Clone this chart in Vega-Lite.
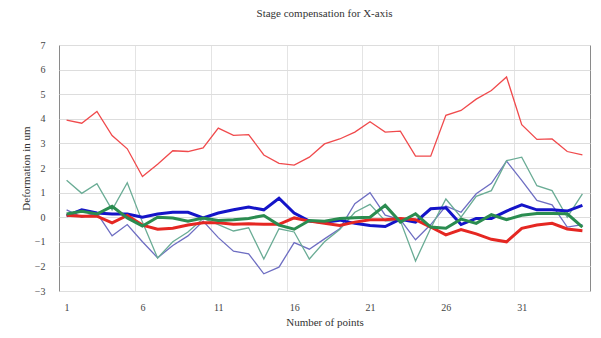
{
  "$schema": "https://vega.github.io/schema/vega-lite/v6.json",
  "width": 531,
  "height": 246,
  "autosize": {"type": "none"},
  "padding": {"left": 59, "top": 45, "right": 11, "bottom": 47},
  "background": "white",
  "title": {
    "text": "Stage compensation for X-axis",
    "font": "Liberation Serif",
    "fontSize": 11,
    "fontWeight": "normal",
    "color": "#333333",
    "anchor": "middle",
    "offset": 21
  },
  "config": {
    "view": {"stroke": "#8a8a8a", "strokeWidth": 1},
    "axis": {
      "labelFont": "Liberation Serif",
      "titleFont": "Liberation Serif",
      "labelColor": "#444444",
      "titleColor": "#333333",
      "labelFontSize": 10,
      "titleFontSize": 11,
      "titleFontWeight": "normal",
      "gridColor": "#dddddd",
      "gridWidth": 1,
      "labelOverlap": false
    }
  },
  "data": {
    "values": [
      {"point": 1, "s1": 3.95, "s2": 0.05, "s3": 0.08, "s4": 0.13, "s5": 0.3, "s6": 1.5},
      {"point": 2, "s1": 3.82, "s2": 0.3, "s3": 0.04, "s4": 0.24, "s5": 0.0, "s6": 0.97},
      {"point": 3, "s1": 4.3, "s2": 0.17, "s3": 0.04, "s4": 0.13, "s5": 0.17, "s6": 1.36},
      {"point": 4, "s1": 3.32, "s2": 0.13, "s3": -0.23, "s4": 0.44, "s5": -0.76, "s6": 0.3},
      {"point": 5, "s1": 2.78, "s2": 0.13, "s3": 0.07, "s4": -0.03, "s5": -0.3, "s6": 1.4},
      {"point": 6, "s1": 1.65, "s2": 0.0, "s3": -0.32, "s4": -0.36, "s5": -1.0, "s6": -0.2},
      {"point": 7, "s1": 2.15, "s2": 0.13, "s3": -0.49, "s4": 0.0, "s5": -1.65, "s6": -1.66},
      {"point": 8, "s1": 2.7, "s2": 0.2, "s3": -0.45, "s4": -0.03, "s5": -1.15, "s6": -1.0},
      {"point": 9, "s1": 2.67, "s2": 0.2, "s3": -0.32, "s4": -0.16, "s5": -0.76, "s6": -0.6},
      {"point": 10, "s1": 2.82, "s2": -0.03, "s3": -0.23, "s4": -0.03, "s5": -0.16, "s6": -0.05},
      {"point": 11, "s1": 3.62, "s2": 0.17, "s3": -0.23, "s4": -0.13, "s5": -0.83, "s6": -0.3},
      {"point": 12, "s1": 3.33, "s2": 0.3, "s3": -0.29, "s4": -0.1, "s5": -1.38, "s6": -0.56},
      {"point": 13, "s1": 3.36, "s2": 0.41, "s3": -0.27, "s4": -0.05, "s5": -1.49, "s6": -0.43},
      {"point": 14, "s1": 2.53, "s2": 0.3, "s3": -0.29, "s4": 0.07, "s5": -2.3, "s6": -1.7},
      {"point": 15, "s1": 2.19, "s2": 0.77, "s3": -0.29, "s4": -0.32, "s5": -2.03, "s6": -0.47},
      {"point": 16, "s1": 2.12, "s2": 0.17, "s3": -0.03, "s4": -0.49, "s5": -1.03, "s6": -0.6},
      {"point": 17, "s1": 2.44, "s2": -0.16, "s3": -0.16, "s4": -0.13, "s5": -1.3, "s6": -1.7},
      {"point": 18, "s1": 2.98, "s2": -0.2, "s3": -0.25, "s4": -0.16, "s5": -0.88, "s6": -1.0},
      {"point": 19, "s1": 3.18, "s2": -0.12, "s3": -0.34, "s4": -0.05, "s5": -0.47, "s6": -0.5},
      {"point": 20, "s1": 3.46, "s2": -0.25, "s3": -0.2, "s4": -0.02, "s5": 0.55, "s6": 0.2},
      {"point": 21, "s1": 3.88, "s2": -0.34, "s3": -0.1, "s4": 0.0, "s5": 1.0, "s6": 0.52},
      {"point": 22, "s1": 3.46, "s2": -0.38, "s3": -0.1, "s4": 0.48, "s5": 0.08, "s6": -0.15},
      {"point": 23, "s1": 3.5, "s2": -0.08, "s3": -0.05, "s4": -0.2, "s5": -0.1, "s6": -0.15},
      {"point": 24, "s1": 2.48, "s2": -0.2, "s3": -0.1, "s4": 0.14, "s5": -0.92, "s6": -1.78},
      {"point": 25, "s1": 2.48, "s2": 0.34, "s3": -0.4, "s4": -0.4, "s5": -0.3, "s6": -0.45},
      {"point": 26, "s1": 4.14, "s2": 0.38, "s3": -0.72, "s4": -0.45, "s5": 0.45, "s6": 0.74},
      {"point": 27, "s1": 4.34, "s2": -0.3, "s3": -0.5, "s4": -0.08, "s5": 0.2, "s6": 0.0},
      {"point": 28, "s1": 4.8, "s2": -0.05, "s3": -0.68, "s4": -0.25, "s5": 0.95, "s6": 0.85},
      {"point": 29, "s1": 5.15, "s2": -0.05, "s3": -0.9, "s4": 0.1, "s5": 1.38, "s6": 1.08},
      {"point": 30, "s1": 5.7, "s2": 0.25, "s3": -1.0, "s4": -0.1, "s5": 2.28, "s6": 2.3},
      {"point": 31, "s1": 3.76, "s2": 0.5, "s3": -0.45, "s4": 0.08, "s5": 1.5, "s6": 2.44},
      {"point": 32, "s1": 3.16, "s2": 0.3, "s3": -0.32, "s4": 0.15, "s5": 0.68, "s6": 1.28},
      {"point": 33, "s1": 3.18, "s2": 0.3, "s3": -0.25, "s4": 0.15, "s5": 0.5, "s6": 1.08},
      {"point": 34, "s1": 2.67, "s2": 0.25, "s3": -0.48, "s4": 0.14, "s5": -0.4, "s6": 0.0},
      {"point": 35, "s1": 2.53, "s2": 0.48, "s3": -0.55, "s4": -0.4, "s5": -0.3, "s6": 0.95}
    ]
  },
  "transform": [
    {"fold": ["s1", "s2", "s3", "s4", "s5", "s6"], "as": ["series", "value"]}
  ],
  "layer": [
    {
      "mark": {"type": "line", "opacity": 0},
      "encoding": {
        "x": {
          "field": "point", "type": "quantitative",
          "scale": {"domain": [0.5, 35.5], "nice": false, "zero": false},
          "axis": {"orient": "top", "values": [5.5, 10.5, 15.5, 20.5, 25.5, 30.5], "grid": true, "gridColor": "#e4e4e4", "labels": false, "ticks": false, "domain": false, "title": null}
        },
        "y": {
          "field": "value", "type": "quantitative",
          "scale": {"domain": [-3, 7], "nice": false},
          "axis": {"values": [-3, -2, -1, 0, 1, 2, 3, 4, 5, 6, 7], "grid": true, "ticks": false, "domain": false, "labelPadding": 14, "title": "Deformation in um", "titlePadding": 3}
        },
        "detail": {"field": "series"}
      }
    },
    {
      "transform": [{"filter": {"field": "series", "oneOf": ["s1", "s5", "s6"]}}],
      "mark": {"type": "line", "strokeWidth": 1.3, "interpolate": "linear"},
      "encoding": {
        "x": {
          "field": "point", "type": "quantitative",
          "axis": {"orient": "bottom", "values": [1, 6, 11, 16, 21, 26, 31], "grid": false, "ticks": false, "domain": false, "labelPadding": 11, "title": "Number of points", "titlePadding": 4}
        },
        "y": {
          "field": "value", "type": "quantitative",
          "axis": {"values": [-3, -2, -1, 0, 1, 2, 3, 4, 5, 6, 7], "grid": true, "ticks": false, "domain": false, "labelPadding": 14, "title": "Deformation in um", "titlePadding": 3}
        },
        "color": {
          "field": "series", "type": "nominal", "legend": null,
          "scale": {"domain": ["s1", "s2", "s3", "s4", "s5", "s6"], "range": ["#f04a4c", "#1414c8", "#e52722", "#2b8c50", "#6e6ec2", "#6aac95"]}
        }
      }
    },
    {
      "transform": [{"filter": {"field": "series", "oneOf": ["s4", "s3", "s2"]}}],
      "mark": {"type": "line", "strokeWidth": 3, "interpolate": "linear"},
      "encoding": {
        "x": {"field": "point", "type": "quantitative", "axis": null},
        "y": {
          "field": "value", "type": "quantitative",
          "axis": {"values": [-3, -2, -1, 0, 1, 2, 3, 4, 5, 6, 7], "grid": true, "ticks": false, "domain": false, "labelPadding": 14, "title": "Deformation in um", "titlePadding": 3}
        },
        "color": {"field": "series", "type": "nominal", "legend": null}
      }
    }
  ],
  "resolve": {"axis": {"x": "independent"}}
}
